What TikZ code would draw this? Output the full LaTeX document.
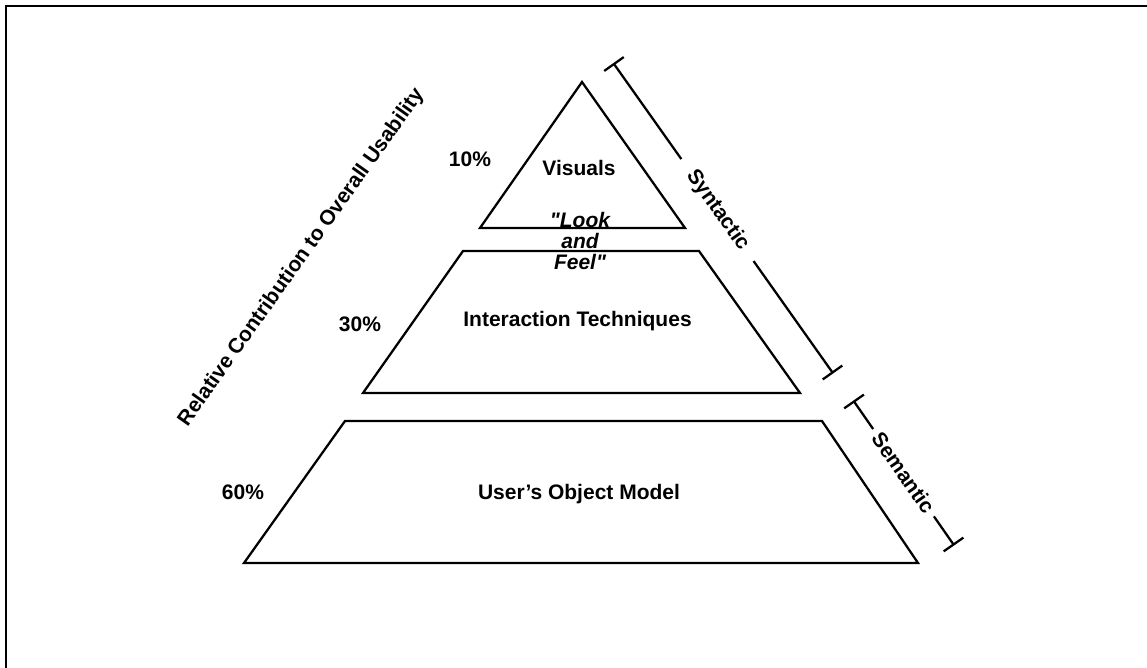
\documentclass[tikz,border=0pt]{standalone}
\usepackage{fontspec}
\setmainfont{Liberation Sans}
% same face without the TeX quote mapping, for straight double quotes
\newfontfamily\plainquotes{Liberation Sans}
\newcommand{\dq}{{\plainquotes"}}
\usetikzlibrary{calc}
\begin{document}
\begin{tikzpicture}[x=0.75pt,y=-0.75pt,
  line width=1.7pt, line join=miter,
  lbl/.style={font=\fontsize{15.75}{15.75}\selectfont\bfseries, inner sep=0pt},
  italbl/.style={lbl, font=\fontsize{15.75}{15.75}\selectfont\bfseries\itshape, align=center},
  layer/.style={draw=black},
  bracket/.style={draw=black}]
\clip (0,0) rectangle (1147,668);
\fill[white] (0,0) rectangle (1147,668);
% outer frame (only top and left edges fall inside the page)
\draw (6.2,700) -- (6.2,6.2) -- (1200,6.2);

% pyramid layers
\draw[layer] (582,82) -- (685,228) -- (480,228) -- cycle;
\draw[layer] (463,251) -- (699,251) -- (800,393) -- (363,393) -- cycle;
\draw[layer] (345,421) -- (822,421) -- (918,563) -- (244,563) -- cycle;

% layer labels
\node[lbl, anchor=base] (p10) at (470,166.7) {10\%};
\node[lbl, anchor=base] (vis) at (579,175) {Visuals};
\node[italbl] (lf) at (580,241) {\dq Look\\and\\Feel\dq};
\node[lbl, anchor=base] (p30) at (360,331.7) {30\%};
\node[lbl, anchor=base] (itech) at (577.5,326) {Interaction Techniques};
\node[lbl, anchor=base] (p60) at (243,499) {60\%};
\node[lbl, anchor=base] (uom) at (579,499) {User’s Object Model};

% axis label
\node[lbl, rotate=54.6] (axis) at (301.5,257.5) {Relative Contribution to Overall Usability};

% Syntactic bracket
\coordinate (syntop) at (614,64);
\coordinate (synbot) at (832.5,372.5);
\path (syntop) -- (synbot) node[lbl, sloped, pos=0.4735, inner xsep=11pt] (syn) {Syntactic};
\draw[bracket] (syntop) -- (syn.west);
\draw[bracket] (syn.east) -- (synbot);
\draw[bracket] ($(syntop)!9pt!90:(synbot)$) -- ($(syntop)!9pt!-90:(synbot)$);
\draw[bracket] ($(synbot)!9pt!90:(syntop)$) -- ($(synbot)!9pt!-90:(syntop)$);

% Semantic bracket
\coordinate (semtop) at (854,401.5);
\coordinate (sembot) at (953.5,544.5);
\path (semtop) -- (sembot) node[lbl, sloped, pos=0.498, inner xsep=4pt] (sem) {Semantic};
\draw[bracket] (semtop) -- (sem.west);
\draw[bracket] (sem.east) -- (sembot);
\draw[bracket] ($(semtop)!9pt!90:(sembot)$) -- ($(semtop)!9pt!-90:(sembot)$);
\draw[bracket] ($(sembot)!9pt!90:(semtop)$) -- ($(sembot)!9pt!-90:(semtop)$);
\end{tikzpicture}
\end{document}
